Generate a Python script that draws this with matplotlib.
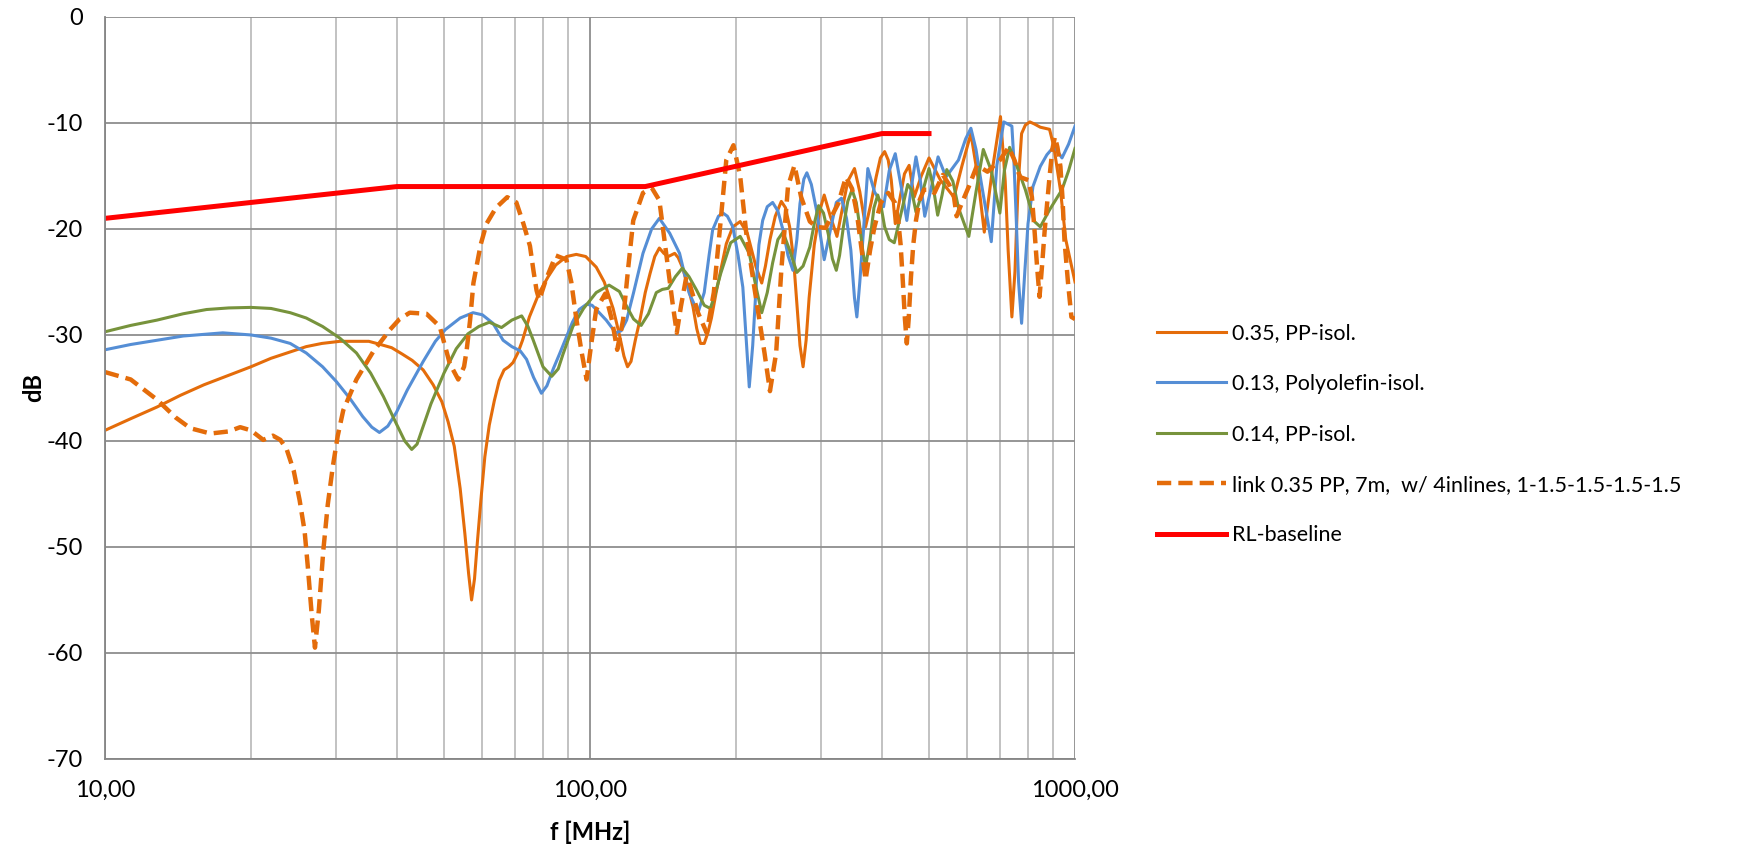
import matplotlib
matplotlib.use("Agg")
import matplotlib.pyplot as plt
from matplotlib.ticker import FixedLocator, FixedFormatter, NullFormatter

plt.rcParams['font.family'] = ['Lato', 'DejaVu Sans']
plt.rcParams['axes.unicode_minus'] = False

# return loss curves as (f [MHz], dB) pairs
s035 = [(10, -39.0), (11.3, -37.9), (12.8, -36.8), (14.3, -35.7), (16, -34.7), (18, -33.8),
        (20, -33.0), (22, -32.2), (24.1, -31.6), (26, -31.1), (28, -30.8), (30.5, -30.6),
        (33, -30.6), (35, -30.6), (37, -30.9), (39, -31.2), (41, -31.8), (43, -32.4),
        (45.3, -33.3), (47.5, -34.7), (49.5, -36.3), (51, -38.2), (52.5, -40.5), (54, -44.5),
        (55.2, -48.7), (56.2, -52.5), (57, -55.0), (57.8, -53.0), (58.6, -49.5), (59.6, -45.5),
        (60.7, -41.5), (62, -38.5), (63.5, -36.2), (65, -34.3), (66.5, -33.3), (68, -33.0),
        (69.4, -32.6), (71, -31.7), (72.6, -30.5), (75, -28.3), (78.6, -26.0), (82, -24.5),
        (85, -23.4), (89.5, -22.6), (93.7, -22.4), (98, -22.6), (103, -23.6), (107, -25.0),
        (111.6, -27.5), (115, -30.0), (117.5, -32.0), (119.5, -33.0), (121.5, -32.5),
        (124, -30.5), (127, -28.4), (130, -26.0), (133, -24.2), (136, -22.6), (139, -21.8),
        (142, -22.3), (145, -22.6), (149.5, -22.3), (152, -22.7), (155, -23.6), (159, -25.3),
        (163, -27.3), (166, -29.4), (169, -30.8), (172, -30.8), (175, -29.8), (178, -28.4),
        (182, -26.0), (186, -23.9), (191, -21.4), (197, -19.8), (204, -19.3), (211, -20.4),
        (216, -22.2), (220, -23.6), (226, -25.1), (230, -23.5), (235, -21.0), (241, -18.8),
        (248, -17.4), (253, -18.0), (258, -19.8), (263, -23.0), (267, -27.0), (271, -31.0),
        (275, -33.0), (279, -30.5), (283, -26.5), (290, -21.5), (298, -18.2), (304, -16.8),
        (313, -18.8), (323, -20.7), (330, -18.5), (340, -15.5), (351, -14.3), (360, -16.5),
        (370, -19.8), (380, -17.5), (389, -15.1), (397, -13.3), (405, -12.7), (412, -13.5),
        (418, -15.4), (426, -19.5), (434, -17.5), (445, -14.8), (455, -14.0), (466, -17.0),
        (482, -15.0), (500, -13.3), (528, -15.4), (563, -17.0), (585, -14.0), (610, -11.0),
        (630, -15.0), (650, -20.3), (675, -14.5), (702, -9.4), (718, -15.5), (728, -22.0),
        (741, -28.3), (752, -24.0), (763, -16.0), (776, -11.0), (790, -10.2), (807, -9.9),
        (825, -10.1), (848, -10.4), (886, -10.6), (904, -12.2), (933, -16.3), (957, -21.0),
        (1000, -25.0)]

s013 = [(10, -31.4), (11.3, -30.9), (12.8, -30.5), (14.5, -30.1), (17.5, -29.8), (20, -30.0),
        (22, -30.3), (24.1, -30.8), (26, -31.7), (28.1, -33.0), (30, -34.4), (32, -36.0),
        (34, -37.7), (35.5, -38.7), (36.8, -39.2), (38.3, -38.6), (39.9, -37.3), (42, -35.2),
        (45.3, -32.5), (48, -30.6), (50.3, -29.5), (54, -28.4), (57.4, -27.9), (60, -28.1),
        (63.1, -28.9), (66.2, -30.5), (69, -31.1), (71.8, -31.5), (74, -32.3), (76.5, -34.0),
        (79.4, -35.5), (81.5, -34.8), (84, -33.2), (86.7, -31.7), (92, -28.8), (95, -27.6),
        (98.4, -27.1), (101, -27.2), (104, -27.8), (108, -28.6), (113, -29.8), (116, -29.6),
        (119, -28.6), (123, -26.0), (128.6, -22.3), (134, -20.0), (139, -19.0), (146, -20.4),
        (153, -22.3), (160, -26.0), (167, -27.9), (172, -26.0), (176, -22.5), (179, -20.1),
        (184, -18.8), (188, -18.5), (192, -18.8), (197, -19.8), (202, -22.5), (206.6, -25.5),
        (210, -30.5), (213, -34.9), (216.5, -31.0), (220, -25.5), (223, -21.5), (227, -19.2),
        (232, -17.9), (238, -17.5), (244, -18.3), (250, -20.1), (256, -22.5), (262, -23.9),
        (267, -21.0), (271, -17.6), (276, -15.3), (280, -14.7), (286, -15.8), (293, -18.2),
        (304, -22.9), (315, -19.5), (322, -17.5), (330, -17.1), (338, -19.0), (345, -22.0),
        (351, -26.5), (355, -28.3), (360, -25.0), (366, -20.4), (374, -14.3), (386, -16.5),
        (403, -17.9), (414, -14.5), (426, -12.9), (438, -16.0), (450, -19.2), (460, -16.0),
        (470, -13.2), (480, -15.5), (490, -18.8), (506, -16.0), (522, -13.2), (542, -15.1),
        (575, -13.5), (595, -11.5), (610, -10.5), (625, -12.5), (640, -15.5), (672, -21.2),
        (690, -14.0), (713, -9.9), (741, -10.3), (748, -13.5), (755, -18.0), (765, -25.0),
        (776, -28.9), (788, -24.0), (800, -19.5), (819, -16.0), (848, -14.1), (875, -13.0),
        (906, -12.2), (940, -13.3), (970, -12.0), (1000, -10.3)]

s014 = [(10, -29.7), (11.3, -29.1), (12.8, -28.6), (14.5, -28.0), (16.2, -27.6), (18, -27.45),
        (20, -27.4), (22, -27.5), (24.1, -27.9), (26, -28.4), (28.1, -29.2), (30.5, -30.3),
        (33, -31.7), (35.3, -33.6), (37.5, -35.8), (40, -38.5), (41.5, -40.0), (42.9, -40.8),
        (44, -40.3), (45, -39.0), (47, -36.5), (50, -33.6), (53, -31.3), (56, -29.9),
        (59, -29.2), (62, -28.8), (65.7, -29.3), (69, -28.6), (72.3, -28.2), (74.5, -29.2),
        (76.4, -30.5), (80, -33.0), (83.4, -33.9), (86, -33.2), (88, -31.8), (92.2, -29.2),
        (97, -27.5), (103, -26.0), (109.5, -25.3), (115, -25.9), (119, -27.3), (123, -28.5),
        (127.5, -29.1), (132, -28.0), (137, -26.0), (141, -25.7), (145, -25.6), (150, -24.5),
        (155, -23.7), (160, -24.5), (166, -25.8), (172, -27.2), (177, -27.5), (181, -26.2),
        (186, -24.2), (195, -21.3), (204, -20.7), (213, -22.3), (220, -25.5), (226, -27.9),
        (232, -26.0), (238, -23.2), (244, -21.0), (250, -20.3), (258, -22.0), (267, -24.1),
        (275, -23.5), (284, -21.7), (290, -19.5), (296, -17.8), (303, -18.5), (310, -20.5),
        (316, -22.8), (322, -23.9), (327, -22.5), (333, -19.8), (340, -17.4), (347, -16.3),
        (354, -17.5), (360, -19.8), (365, -22.0), (370, -23.6), (378, -21.0), (385, -18.0),
        (392, -16.8), (398, -17.8), (405, -19.8), (414, -21.0), (424, -21.3), (438, -18.5),
        (452, -15.8), (460, -16.3), (470, -18.4), (485, -16.5), (500, -14.3), (510, -16.0),
        (521, -18.7), (532, -16.8), (544, -14.4), (560, -15.5), (575, -18.0), (604, -20.7),
        (625, -16.5), (647, -12.5), (672, -14.5), (700, -18.5), (715, -14.5), (733, -12.3),
        (755, -13.8), (790, -16.3), (825, -19.3), (848, -19.8), (886, -18.2), (940, -16.3),
        (970, -14.5), (1000, -12.4)]

s_link = [(10, -33.5), (11.3, -34.2), (12.8, -36.1), (14, -37.8), (15, -38.8), (16.5, -39.3),
          (18, -39.1), (19, -38.7), (20, -39.0), (21.2, -39.9), (22.2, -39.5), (23, -39.9),
          (23.7, -40.8), (24.5, -42.8), (25.2, -45.6), (25.8, -48.5), (26.2, -51.9),
          (26.7, -56.5), (27.1, -59.5), (27.6, -56.0), (28.2, -50.3), (28.8, -46.0),
          (29.5, -42.4), (30.2, -39.5), (31, -37.1), (33, -34.2), (35.7, -31.6), (38.7, -29.5),
          (40.5, -28.5), (42.5, -27.9), (46, -28.0), (49, -29.2), (51.4, -32.7), (53.5, -34.2),
          (55, -33.0), (55.7, -31.4), (56.6, -28.6), (57.5, -25.1), (59.5, -21.5), (61.2, -19.5),
          (64, -18.0), (67.5, -17.0), (70.5, -17.5), (72.9, -19.5), (75.2, -21.6), (76.5, -24.0),
          (77.6, -25.8), (78.6, -26.7), (81.1, -24.8), (85, -22.5), (89.4, -22.9), (91.5, -25.0),
          (93.6, -28.3), (96, -31.5), (98.4, -34.2), (100.5, -31.0), (103, -27.6),
          (107.5, -26.1), (111, -28.6), (113.8, -31.4), (117, -28.6), (120, -23.5),
          (122.8, -19.2), (128.6, -16.6), (134, -16.1), (139, -17.3), (143, -21.7), (148, -27.0),
          (151, -29.8), (154, -27.3), (158, -24.5), (161, -25.4), (167, -27.9), (174, -29.8),
          (180, -26.0), (186, -19.2), (191, -13.5), (197.6, -12.1), (204, -15.0), (210, -20.4),
          (218, -25.4), (229, -31.7), (235, -35.3), (242, -31.7), (248, -23.9), (256, -16.0),
          (264, -14.0), (272.5, -17.0), (284, -19.3), (293, -19.8), (306, -19.9), (325, -17.6),
          (337, -15.1), (347, -16.2), (355, -18.5), (362, -21.5), (370, -24.8), (378, -22.0),
          (386, -19.8), (398, -17.5), (412, -16.6), (425, -17.5), (432, -19.2), (437, -21.5),
          (441, -24.5), (446, -28.5), (450, -30.8), (454, -28.5), (459, -24.5), (464, -21.5),
          (470, -19.2), (478, -17.3), (488, -16.3), (500, -16.3), (513, -16.6), (534, -14.9),
          (550, -15.8), (563, -17.0), (570, -18.8), (585, -17.5), (604, -16.0), (628, -14.0),
          (660, -14.6), (700, -13.5), (730, -12.3), (750, -13.5), (770, -15.1), (802, -15.4),
          (815, -17.0), (825, -20.1), (835, -23.5), (845, -26.4), (855, -23.5), (866, -20.1),
          (886, -15.1), (898, -12.5), (909, -11.3), (920, -12.3), (933, -14.1), (942, -17.0),
          (951, -21.0), (967, -25.0), (983, -28.3), (1000, -28.5)]

f_base = [10, 40, 130, 400, 500]
db_base = [-19, -16, -16, -11, -11]

labels = ['0.35, PP-isol.', '0.13, Polyolefin-isol.', '0.14, PP-isol.',
          'link 0.35 PP, 7m,  w/ 4inlines, 1-1.5-1.5-1.5-1.5', 'RL-baseline']
x_ticks = [10, 100, 1000]
x_ticklabels = ['10,00', '100,00', '1000,00']

fig = plt.figure(figsize=(17.58, 8.48), dpi=100)
ax = fig.add_axes([0.0597, 0.105, 0.5518, 0.875])

def draw(pts, **kw):
    f, db = zip(*pts)
    ax.plot(f, db, solid_joinstyle='round', dash_joinstyle='round', **kw)

draw(s035, color='#E46C0A', lw=2.2, label=labels[0])
draw(s013, color='#558ED5', lw=2.2, label=labels[1])
draw(s014, color='#77933C', lw=2.2, label=labels[2])
draw(s_link, color='#E46C0A', lw=3.2, dashes=(3.2, 1.6), label=labels[3])
ax.plot(f_base, db_base, color='#FF0000', lw=3.6, label=labels[4])

ax.set_xscale('log')
ax.set_xlim(10, 1000)
ax.set_ylim(-70, 0)
ax.xaxis.set_major_locator(FixedLocator(x_ticks))
ax.xaxis.set_major_formatter(FixedFormatter(x_ticklabels))
ax.xaxis.set_minor_locator(FixedLocator([m * d for d in (10, 100) for m in range(2, 10)]))
ax.xaxis.set_minor_formatter(NullFormatter())
ax.set_yticks(range(-70, 1, 10))

ax.grid(True, which='major', axis='y', color='#8E8E8E', lw=1.3)
ax.grid(True, which='major', axis='x', color='#8E8E8E', lw=1.3)
ax.grid(True, which='minor', axis='x', color='#BDBDBD', lw=1.3)
ax.set_axisbelow(True)

for s in ('top', 'right'):
    ax.spines[s].set_visible(False)
for s in ('left', 'bottom'):
    ax.spines[s].set_color('#868686')
    ax.spines[s].set_linewidth(1.3)

ax.tick_params(axis='both', which='both', length=0, labelsize=17, colors='#000000')
ax.tick_params(axis='y', pad=16)
ax.tick_params(axis='x', pad=15)

ax.set_xlabel('f [MHz]', fontsize=17, fontweight='bold', labelpad=14)
ax.set_ylabel('dB', fontsize=17, fontweight='bold', labelpad=1)

fig.legend(loc='center left', bbox_to_anchor=(0.658, 0.488), frameon=False,
           fontsize=15.5, handlelength=3.2, handletextpad=0.3, labelspacing=1.42,
           borderpad=0, borderaxespad=0)

fig.savefig('out.png', dpi=100)
